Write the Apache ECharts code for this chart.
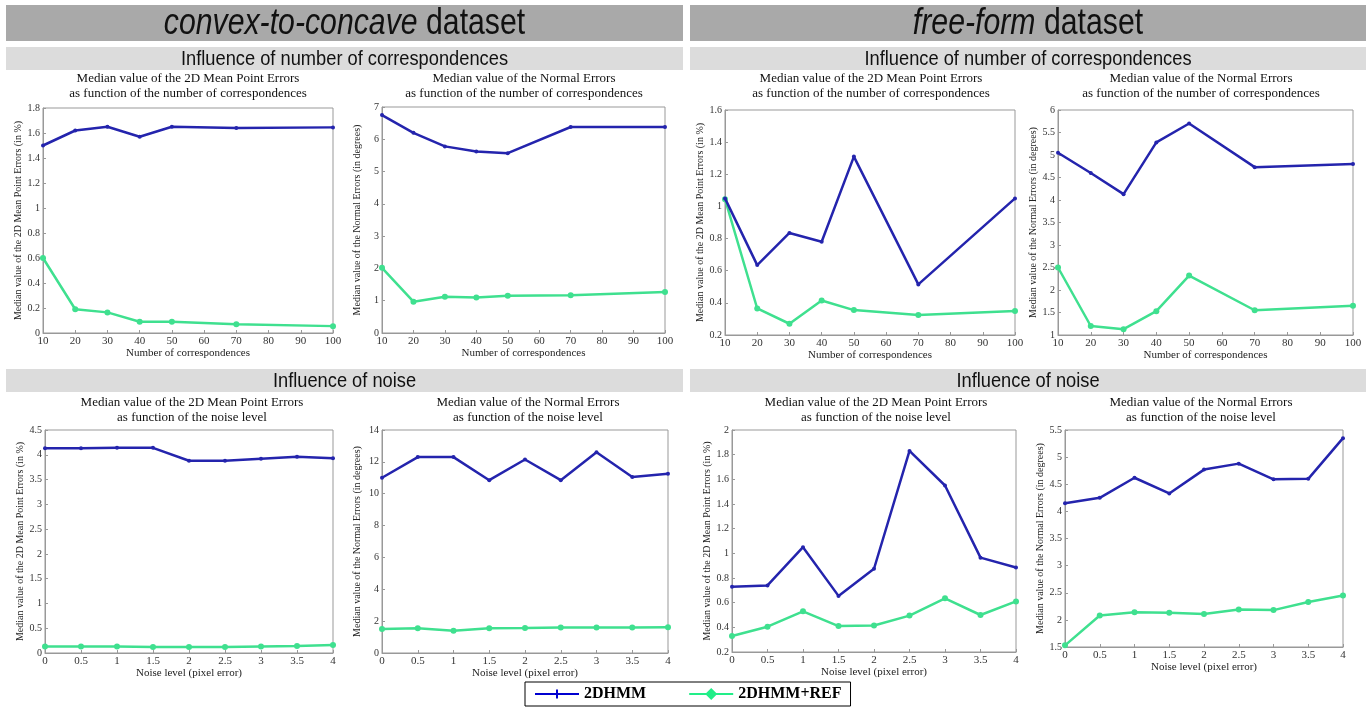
<!DOCTYPE html>
<html>
<head>
<meta charset="utf-8">
<script src="https://cdn.jsdelivr.net/npm/echarts@6/dist/echarts.min.js"></script>
<style>
  html, body { margin: 0; padding: 0; background: #fff; }
  #chart { width: 1366px; height: 708px; }
</style>
</head>
<body>
<div id="chart"></div>
<script>
// x values
const corrLevels = [10, 20, 30, 40, 50, 70, 100];
const noiseLevels = [0, 0.5, 1, 1.5, 2, 2.5, 3, 3.5, 4];

// convex-to-concave, number of correspondences
const ccCorrPointHMM = [1.50, 1.62, 1.65, 1.57, 1.65, 1.64, 1.645];
const ccCorrPointREF = [0.60, 0.19, 0.165, 0.09, 0.09, 0.07, 0.055];
const ccCorrNormalHMM = [6.75, 6.20, 5.78, 5.62, 5.57, 6.38, 6.38];
const ccCorrNormalREF = [2.02, 0.97, 1.12, 1.10, 1.15, 1.17, 1.27];

// free-form, number of correspondences
const ffCorrPointHMM = [1.05, 0.635, 0.835, 0.78, 1.31, 0.515, 1.05];
const ffCorrPointREF = [1.045, 0.365, 0.27, 0.415, 0.355, 0.325, 0.35];
const ffCorrNormalHMM = [5.05, 4.60, 4.13, 5.28, 5.70, 4.73, 4.80];
const ffCorrNormalREF = [2.50, 1.20, 1.13, 1.53, 2.32, 1.55, 1.65];

// convex-to-concave, noise
const ccNoisePointHMM = [4.13, 4.13, 4.14, 4.14, 3.88, 3.88, 3.92, 3.96, 3.93];
const ccNoisePointREF = [0.13, 0.13, 0.13, 0.12, 0.12, 0.12, 0.13, 0.14, 0.16];
const ccNoiseNormalHMM = [11.0, 12.3, 12.3, 10.85, 12.15, 10.85, 12.6, 11.05, 11.25];
const ccNoiseNormalREF = [1.50, 1.55, 1.40, 1.55, 1.57, 1.60, 1.60, 1.60, 1.62];

// free-form, noise
const ffNoisePointHMM = [0.73, 0.74, 1.05, 0.655, 0.875, 1.83, 1.55, 0.965, 0.885];
const ffNoisePointREF = [0.33, 0.405, 0.53, 0.41, 0.415, 0.495, 0.635, 0.50, 0.61];
const ffNoiseNormalHMM = [4.15, 4.25, 4.62, 4.33, 4.77, 4.88, 4.59, 4.60, 5.35];
const ffNoiseNormalREF = [1.53, 2.08, 2.14, 2.13, 2.11, 2.19, 2.18, 2.33, 2.45];

const seriesNames = ['2DHMM', '2DHMM+REF'];
const headerTitles = [['convex-to-concave', ' dataset'], ['free-form', ' dataset']];
const sectionTitles = ['Influence of number of correspondences', 'Influence of noise'];
const pointTitle = 'Median value of the 2D Mean Point Errors';
const normalTitle = 'Median value of the Normal Errors';
const corrSub = 'as function of the number of correspondences';
const noiseSub = 'as function of the noise level';
const pointYName = 'Median value of the 2D Mean Point Errors (in %)';
const normalYName = 'Median value of the Normal Errors (in degrees)';
const corrXName = 'Number of correspondences';
const noiseXName = 'Noise level (pixel error)';

const BLUE = '#2424ad';
const GREEN = '#3fe08f';
const SERIF = '"Liberation Serif", "DejaVu Serif", serif';
const SANS = '"Liberation Sans", Arial, sans-serif';

// panel layout and axes
const panels = [
  { grid: { left: 43,   top: 108, width: 290, height: 225 }, x: corrLevels,  xr: [10, 100, 10], yr: [0, 1.8, 0.2],  xName: corrXName,  yName: pointYName,  t1: pointTitle,  t2: corrSub,  tx: 188,  ty: 71,  a: ccCorrPointHMM,  b: ccCorrPointREF },
  { grid: { left: 382,  top: 107, width: 283, height: 226 }, x: corrLevels,  xr: [10, 100, 10], yr: [0, 7, 1],      xName: corrXName,  yName: normalYName, t1: normalTitle, t2: corrSub,  tx: 524,  ty: 71,  a: ccCorrNormalHMM, b: ccCorrNormalREF },
  { grid: { left: 725,  top: 110, width: 290, height: 225 }, x: corrLevels,  xr: [10, 100, 10], yr: [0.2, 1.6, 0.2], xName: corrXName,  yName: pointYName,  t1: pointTitle,  t2: corrSub,  tx: 871,  ty: 71,  a: ffCorrPointHMM,  b: ffCorrPointREF },
  { grid: { left: 1058, top: 110, width: 295, height: 225 }, x: corrLevels,  xr: [10, 100, 10], yr: [1, 6, 0.5],    xName: corrXName,  yName: normalYName, t1: normalTitle, t2: corrSub,  tx: 1201, ty: 71,  a: ffCorrNormalHMM, b: ffCorrNormalREF },
  { grid: { left: 45,   top: 430, width: 288, height: 223 }, x: noiseLevels, xr: [0, 4, 0.5],    yr: [0, 4.5, 0.5],  xName: noiseXName, yName: pointYName,  t1: pointTitle,  t2: noiseSub, tx: 192,  ty: 395, a: ccNoisePointHMM,  b: ccNoisePointREF },
  { grid: { left: 382,  top: 430, width: 286, height: 223 }, x: noiseLevels, xr: [0, 4, 0.5],    yr: [0, 14, 2],     xName: noiseXName, yName: normalYName, t1: normalTitle, t2: noiseSub, tx: 528,  ty: 395, a: ccNoiseNormalHMM, b: ccNoiseNormalREF },
  { grid: { left: 732,  top: 430, width: 284, height: 222 }, x: noiseLevels, xr: [0, 4, 0.5],    yr: [0.2, 2, 0.2],  xName: noiseXName, yName: pointYName,  t1: pointTitle,  t2: noiseSub, tx: 876,  ty: 395, a: ffNoisePointHMM,  b: ffNoisePointREF },
  { grid: { left: 1065, top: 430, width: 278, height: 217 }, x: noiseLevels, xr: [0, 4, 0.5],    yr: [1.5, 5.5, 0.5], xName: noiseXName, yName: normalYName, t1: normalTitle, t2: noiseSub, tx: 1201, ty: 395, a: ffNoiseNormalHMM, b: ffNoiseNormalREF }
];

const pair = (xs, ys) => xs.map((x, i) => [x, ys[i]]);

const grids = [], xAxes = [], yAxes = [], series = [], graphics = [];

// header and section bars with their condensed titles
[[6, 677], [690, 676]].forEach(([x, w], i) => {
  graphics.push({ type: 'rect', shape: { x: x, y: 5, width: w, height: 36 }, style: { fill: '#a9a9a9' }, silent: true });
  graphics.push({ type: 'rect', shape: { x: x, y: 47, width: w, height: 23 }, style: { fill: '#dcdcdc' }, silent: true });
  graphics.push({ type: 'rect', shape: { x: x, y: 369, width: w, height: 23 }, style: { fill: '#dcdcdc' }, silent: true });
  const cx = x + w / 2;
  graphics.push({
    type: 'text', x: cx, y: 24, scaleX: 0.84, silent: true,
    style: {
      text: '{i|' + headerTitles[i][0] + '}{n|' + headerTitles[i][1] + '}',
      align: 'center', verticalAlign: 'middle',
      rich: {
        i: { fontFamily: SANS, fontSize: 36, fontStyle: 'italic', fill: '#111' },
        n: { fontFamily: SANS, fontSize: 36, fill: '#111' }
      }
    }
  });
  graphics.push({ type: 'text', x: cx, y: 59, scaleX: 0.87, silent: true,
    style: { text: sectionTitles[0], font: '21px ' + SANS, fill: '#111', align: 'center', verticalAlign: 'middle' } });
  graphics.push({ type: 'text', x: cx, y: 381, scaleX: 0.87, silent: true,
    style: { text: sectionTitles[1], font: '21px ' + SANS, fill: '#111', align: 'center', verticalAlign: 'middle' } });
});

panels.forEach((p, i) => {
  grids.push(Object.assign({ show: true, borderColor: '#999', borderWidth: 1, backgroundColor: '#fff' }, p.grid));
  xAxes.push({
    type: 'value', gridIndex: i, min: p.xr[0], max: p.xr[1], interval: p.xr[2],
    name: p.xName, nameLocation: 'middle', nameGap: 15,
    nameTextStyle: { fontFamily: SERIF, fontSize: 11, color: '#222' },
    axisLine: { show: true, lineStyle: { color: '#999' } },
    axisTick: { show: true, inside: true, length: 3, lineStyle: { color: '#999' } },
    axisLabel: { fontFamily: SERIF, fontSize: 11, color: '#333', margin: 3 },
    splitLine: { show: false }
  });
  yAxes.push({
    type: 'value', gridIndex: i, min: p.yr[0], max: p.yr[1], interval: p.yr[2],
    name: p.yName, nameLocation: 'middle', nameGap: 20,
    nameTextStyle: { fontFamily: SERIF, fontSize: 10, color: '#222' },
    axisLine: { show: true, lineStyle: { color: '#999' } },
    axisTick: { show: true, inside: true, length: 3, lineStyle: { color: '#999' } },
    axisLabel: { fontFamily: SERIF, fontSize: 10, color: '#333', margin: 3 },
    splitLine: { show: false }
  });
  series.push({
    name: seriesNames[0], type: 'line', xAxisIndex: i, yAxisIndex: i,
    data: pair(p.x, p.a), symbol: 'circle', symbolSize: 4,
    lineStyle: { color: BLUE, width: 2.5 }, itemStyle: { color: BLUE }, z: 3
  });
  series.push({
    name: seriesNames[1], type: 'line', xAxisIndex: i, yAxisIndex: i,
    data: pair(p.x, p.b), symbol: 'circle', symbolSize: 6,
    lineStyle: { color: GREEN, width: 2.5 }, itemStyle: { color: GREEN }, z: 2
  });
  graphics.push({ type: 'text', x: p.tx, y: p.ty, silent: true,
    style: { text: p.t1 + '\n' + p.t2, font: '13px ' + SERIF, fill: '#111', align: 'center', verticalAlign: 'top', lineHeight: 15 } });
});

const chart = echarts.init(document.getElementById('chart'), null, { renderer: 'canvas' });
chart.setOption({
  animation: false,
  backgroundColor: '#fff',
  grid: grids,
  xAxis: xAxes,
  yAxis: yAxes,
  series: series,
  graphic: graphics,
  legend: {
    data: [
      { name: seriesNames[0], icon: 'path://M0,5 L21,5 L21,1.5 L23,1.5 L23,5 L44,5 L44,7 L23,7 L23,10.5 L21,10.5 L21,7 L0,7 Z', itemStyle: { color: '#0000d0' } },
      { name: seriesNames[1], icon: 'path://M0,5 L17,5 L22,0 L27,5 L44,5 L44,7 L27,7 L22,12 L17,7 L0,7 Z', itemStyle: { color: '#22ee88' } }
    ],
    left: 525, top: 682,
    itemWidth: 44, itemHeight: 12, itemGap: 43,
    borderColor: '#000', borderWidth: 1, padding: [4, 9, 4, 10],
    backgroundColor: '#fff',
    textStyle: { fontFamily: SERIF, fontSize: 16, fontWeight: 'bold', color: '#000' }
  }
});
</script>
</body>
</html>
